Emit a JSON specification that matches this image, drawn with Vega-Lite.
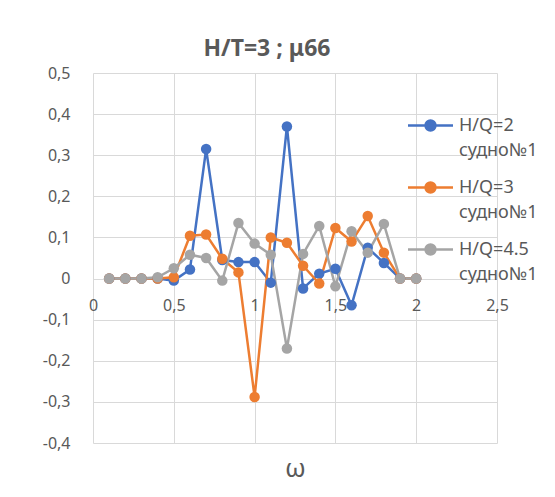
{
  "$schema": "https://vega.github.io/schema/vega-lite/v6.json",
  "width": 404,
  "height": 370,
  "autosize": {"type": "none"},
  "padding": {"left": 93, "top": 73, "right": 58, "bottom": 54},
  "background": "white",
  "title": {
    "text": "H/T=3 ; μ66",
    "fontSize": 23,
    "fontWeight": "bold",
    "color": "#595959",
    "dx": -28,
    "offset": 4
  },
  "data": {
    "values": [
      {"w": 0.1, "v": 0, "s": "H/Q=2 судно№1"},
      {"w": 0.2, "v": 0, "s": "H/Q=2 судно№1"},
      {"w": 0.3, "v": 0, "s": "H/Q=2 судно№1"},
      {"w": 0.4, "v": 0, "s": "H/Q=2 судно№1"},
      {"w": 0.5, "v": -0.005, "s": "H/Q=2 судно№1"},
      {"w": 0.6, "v": 0.022, "s": "H/Q=2 судно№1"},
      {"w": 0.7, "v": 0.315, "s": "H/Q=2 судно№1"},
      {"w": 0.8, "v": 0.045, "s": "H/Q=2 судно№1"},
      {"w": 0.9, "v": 0.04, "s": "H/Q=2 судно№1"},
      {"w": 1.0, "v": 0.04, "s": "H/Q=2 судно№1"},
      {"w": 1.1, "v": -0.01, "s": "H/Q=2 судно№1"},
      {"w": 1.2, "v": 0.37, "s": "H/Q=2 судно№1"},
      {"w": 1.3, "v": -0.024, "s": "H/Q=2 судно№1"},
      {"w": 1.4, "v": 0.012, "s": "H/Q=2 судно№1"},
      {"w": 1.5, "v": 0.024, "s": "H/Q=2 судно№1"},
      {"w": 1.6, "v": -0.065, "s": "H/Q=2 судно№1"},
      {"w": 1.7, "v": 0.075, "s": "H/Q=2 судно№1"},
      {"w": 1.8, "v": 0.038, "s": "H/Q=2 судно№1"},
      {"w": 1.9, "v": 0, "s": "H/Q=2 судно№1"},
      {"w": 2.0, "v": 0, "s": "H/Q=2 судно№1"},
      {"w": 0.1, "v": 0, "s": "H/Q=3 судно№1"},
      {"w": 0.2, "v": 0, "s": "H/Q=3 судно№1"},
      {"w": 0.3, "v": 0, "s": "H/Q=3 судно№1"},
      {"w": 0.4, "v": 0, "s": "H/Q=3 судно№1"},
      {"w": 0.5, "v": 0.003, "s": "H/Q=3 судно№1"},
      {"w": 0.6, "v": 0.104, "s": "H/Q=3 судно№1"},
      {"w": 0.7, "v": 0.107, "s": "H/Q=3 судно№1"},
      {"w": 0.8, "v": 0.048, "s": "H/Q=3 судно№1"},
      {"w": 0.9, "v": 0.015, "s": "H/Q=3 судно№1"},
      {"w": 1.0, "v": -0.288, "s": "H/Q=3 судно№1"},
      {"w": 1.1, "v": 0.1, "s": "H/Q=3 судно№1"},
      {"w": 1.2, "v": 0.087, "s": "H/Q=3 судно№1"},
      {"w": 1.3, "v": 0.031, "s": "H/Q=3 судно№1"},
      {"w": 1.4, "v": -0.012, "s": "H/Q=3 судно№1"},
      {"w": 1.5, "v": 0.123, "s": "H/Q=3 судно№1"},
      {"w": 1.6, "v": 0.09, "s": "H/Q=3 судно№1"},
      {"w": 1.7, "v": 0.152, "s": "H/Q=3 судно№1"},
      {"w": 1.8, "v": 0.063, "s": "H/Q=3 судно№1"},
      {"w": 1.9, "v": 0, "s": "H/Q=3 судно№1"},
      {"w": 2.0, "v": 0, "s": "H/Q=3 судно№1"},
      {"w": 0.1, "v": 0, "s": "H/Q=4.5 судно№1"},
      {"w": 0.2, "v": 0, "s": "H/Q=4.5 судно№1"},
      {"w": 0.3, "v": 0, "s": "H/Q=4.5 судно№1"},
      {"w": 0.4, "v": 0.003, "s": "H/Q=4.5 судно№1"},
      {"w": 0.5, "v": 0.025, "s": "H/Q=4.5 судно№1"},
      {"w": 0.6, "v": 0.058, "s": "H/Q=4.5 судно№1"},
      {"w": 0.7, "v": 0.05, "s": "H/Q=4.5 судно№1"},
      {"w": 0.8, "v": -0.005, "s": "H/Q=4.5 судно№1"},
      {"w": 0.9, "v": 0.135, "s": "H/Q=4.5 судно№1"},
      {"w": 1.0, "v": 0.085, "s": "H/Q=4.5 судно№1"},
      {"w": 1.1, "v": 0.058, "s": "H/Q=4.5 судно№1"},
      {"w": 1.2, "v": -0.17, "s": "H/Q=4.5 судно№1"},
      {"w": 1.3, "v": 0.06, "s": "H/Q=4.5 судно№1"},
      {"w": 1.4, "v": 0.128, "s": "H/Q=4.5 судно№1"},
      {"w": 1.5, "v": -0.019, "s": "H/Q=4.5 судно№1"},
      {"w": 1.6, "v": 0.115, "s": "H/Q=4.5 судно№1"},
      {"w": 1.7, "v": 0.063, "s": "H/Q=4.5 судно№1"},
      {"w": 1.8, "v": 0.133, "s": "H/Q=4.5 судно№1"},
      {"w": 1.9, "v": 0, "s": "H/Q=4.5 судно№1"},
      {"w": 2.0, "v": 0, "s": "H/Q=4.5 судно№1"}
    ]
  },
  "encoding": {
    "x": {
      "field": "w",
      "type": "quantitative",
      "scale": {"domain": [0, 2.5], "nice": false, "zero": false},
      "axis": {
        "title": "ω",
        "values": [0, 0.5, 1, 1.5, 2, 2.5],
        "offset": -165,
        "domain": false,
        "ticks": false,
        "labelExpr": "replace(toString(datum.value), '.', ',')",
        "labelPadding": 19,
        "labelFontSize": 16,
        "labelColor": "#595959",
        "labelFlush": false,
        "titleFontSize": 26,
        "titleFontWeight": "normal",
        "titleColor": "#595959",
        "titleY": 177
      }
    },
    "y": {
      "field": "v",
      "type": "quantitative",
      "scale": {"domain": [-0.4, 0.5], "nice": false, "zero": false},
      "axis": {
        "title": null,
        "values": [-0.4, -0.3, -0.2, -0.1, 0, 0.1, 0.2, 0.3, 0.4, 0.5],
        "domain": false,
        "ticks": false,
        "labelExpr": "replace(toString(datum.value), '.', ',')",
        "labelPadding": 23,
        "labelFontSize": 16,
        "labelColor": "#595959"
      }
    },
    "color": {
      "field": "s",
      "type": "nominal",
      "scale": {
        "domain": ["H/Q=2 судно№1", "H/Q=3 судно№1", "H/Q=4.5 судно№1"],
        "range": ["#4472C4", "#ED7D31", "#A5A5A5"]
      },
      "legend": {
        "title": null,
        "orient": "none",
        "legendX": 321,
        "legendY": 36,
        "labelExpr": "split(datum.label, ' ')",
        "symbolType": "M-1.5,0H1.5M-0.33,0A0.33,0.33 0 1,0 0.33,0A0.33,0.33 0 1,0 -0.33,0Z",
        "symbolSize": 900,
        "symbolStrokeWidth": 2.5,
        "labelFontSize": 18,
        "labelColor": "#595959",
        "labelOffset": 12,
        "rowPadding": 11,
        "encode": {
          "symbols": {
            "update": {
              "fill": {"scale": "color", "field": "value"},
              "stroke": {"scale": "color", "field": "value"},
              "opacity": {"value": 1}
            }
          },
          "labels": {"update": {"lineHeight": {"value": 25}}}
        }
      }
    }
  },
  "layer": [
    {"mark": {"type": "line", "strokeWidth": 2.5}},
    {"mark": {"type": "point", "filled": true, "size": 110, "opacity": 1}}
  ],
  "config": {
    "font": "Noto Sans",
    "view": {"stroke": null},
    "axis": {"gridColor": "#D9D9D9", "gridWidth": 1}
  }
}
